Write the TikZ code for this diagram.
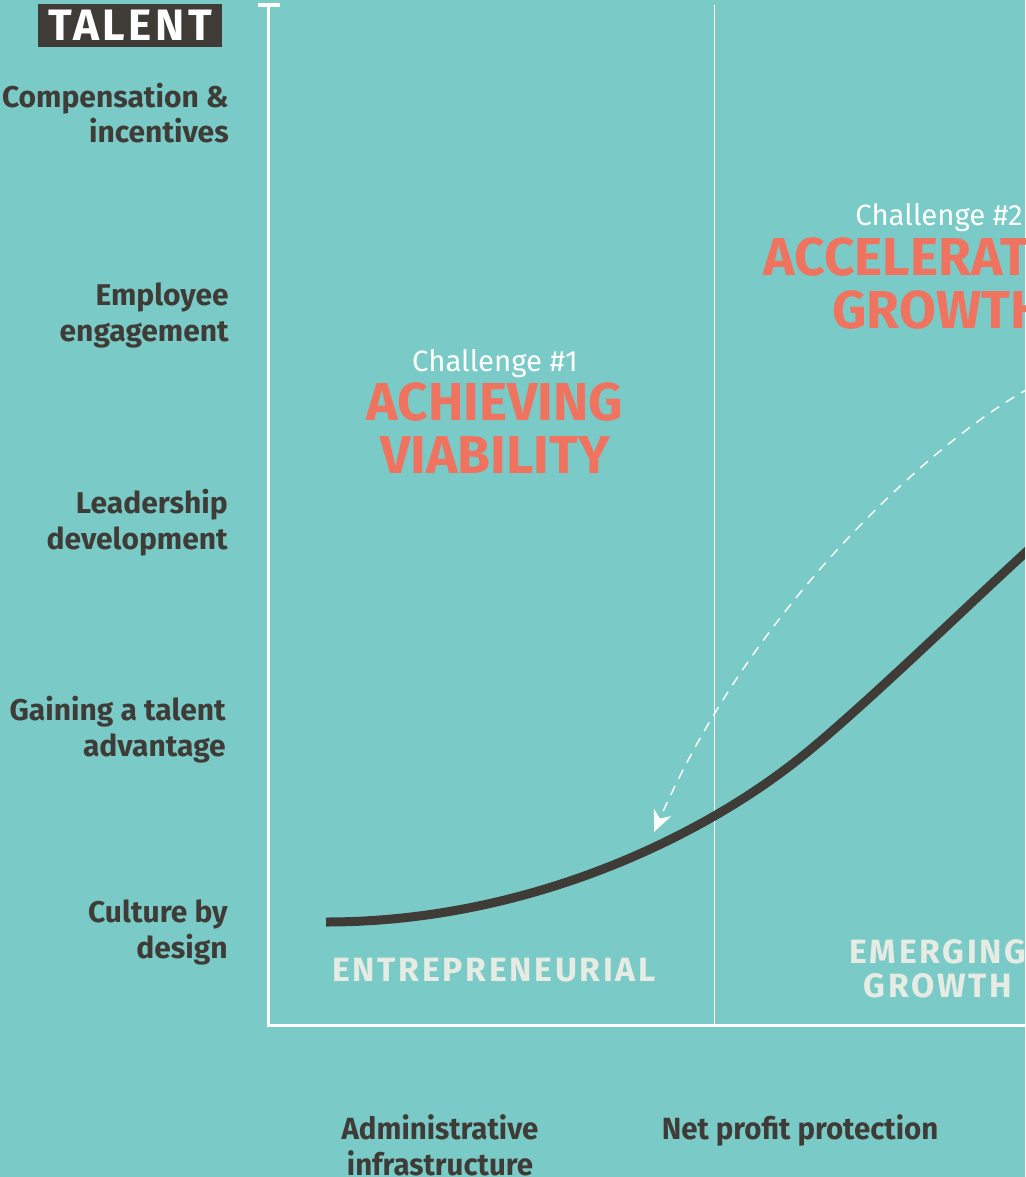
\documentclass[tikz,border=0pt]{standalone}
\usepackage{fontspec}
\setmainfont{Fira Sans}
\newfontfamily\spacedfont[LetterSpace=8]{Fira Sans}
\newfontfamily\condfont[FakeStretch=0.96]{Fira Sans}
\usetikzlibrary{arrows.meta}

\definecolor{bgteal}{HTML}{7ACBC7}
\definecolor{inkdark}{HTML}{3F3C37}
\definecolor{coral}{HTML}{F0735F}
\definecolor{paleink}{HTML}{E6EBE3}

\tikzset{
  axisline/.style={draw=white, line width=2.4pt},
  divider/.style={draw=white, line width=1pt},
  % multi-line nodes sit on the baseline of their last line
  sidelabel/.style={anchor=base east, align=right, inner sep=0pt, text=inkdark,
    font=\fontsize{22.5pt}{27pt}\selectfont\bfseries},
  challenge/.style={anchor=base, inner sep=0pt, text=white,
    font=\fontsize{22pt}{27pt}\selectfont},
  headline/.style={anchor=base, align=center, inner sep=0pt, text=coral,
    font=\fontsize{40pt}{39.5pt}\selectfont\bfseries},
  stage/.style={anchor=base, align=center, inner sep=0pt, text=paleink,
    font=\spacedfont\fontsize{25.3pt}{25.5pt}\selectfont\bfseries},
  driver/.style={anchor=base, align=center, inner sep=0pt, text=inkdark,
    font=\condfont\fontsize{23pt}{27pt}\selectfont\bfseries},
  growthcurve/.style={draw=inkdark, line width=6.75pt},
  feedback/.style={draw=white, line width=1.1pt, dash pattern=on 7.5pt off 6pt,
    -{Stealth[length=16pt,width=14pt,inset=5pt,fill=white]}},
}

\begin{document}
\begin{tikzpicture}[x=0.75pt,y=-0.75pt]
  % canvas
  \fill[bgteal] (0,0) rectangle (1025,1177);
  \useasboundingbox (0,0) rectangle (1025,1177);
  \clip (0,0) rectangle (1025,1177);

  % axes and stage divider
  \draw[axisline] (258,5) -- (280,5);
  \draw[axisline] (268.5,4) -- (268.5,1025.5) -- (1026,1025.5);
  \draw[divider] (714.5,5) -- (714.5,1025);

  % axis title
  \node[fill=inkdark, text=white, minimum width=138pt, minimum height=32pt, inner sep=0pt,
        font=\spacedfont\fontsize{33pt}{33pt}\selectfont\bfseries] (talent) at (130,25.5) {TALENT};

  % talent levers
  \node[sidelabel] (comp) at (229,143) {Compensation \&\\incentives};
  \node[sidelabel] (engage) at (229,341) {Employee\\engagement};
  \node[sidelabel] (lead) at (228,549) {Leadership\\development};
  \node[sidelabel] (gain) at (226,756) {Gaining a talent\\advantage};
  \node[sidelabel] (culture) at (228,958) {Culture by\\design};

  % challenges
  \node[challenge] (ch1) at (495,371) {Challenge \#1};
  \node[headline] (viab) at (495,473) {ACHIEVING\\VIABILITY};
  \node[challenge] (ch2) at (939,225) {Challenge \#2};
  \node[headline] (accel) at (939,328) {ACCELERATING\\GROWTH};

  % stages
  \node[stage] (entre) at (494,981) {ENTREPRENEURIAL};
  \node[stage] (emerg) at (938,997) {EMERGING\\GROWTH};

  % bottom drivers
  \node[driver] (admin) at (440,1175) {Administrative\\infrastructure};
  \node[driver] (profit) at (800,1139) {Net profit protection};

  % growth curve
  \coordinate (g0) at (326,922);
  \coordinate (g1) at (800,758);
  \coordinate (g2) at (1025,553);
  \coordinate (g3) at (1080,502);
  \draw[growthcurve] (g0) .. controls (526,922) and (700,838) .. (g1)
                          .. controls (860,710) and (965,608) .. (g2) -- (g3);

  % feedback arrow
  \coordinate (fb0) at (1030,388);
  \coordinate (fb1) at (654,832);
  \draw[feedback] (fb0) .. controls (950,430) and (760,590) .. (fb1);
\end{tikzpicture}
\end{document}
